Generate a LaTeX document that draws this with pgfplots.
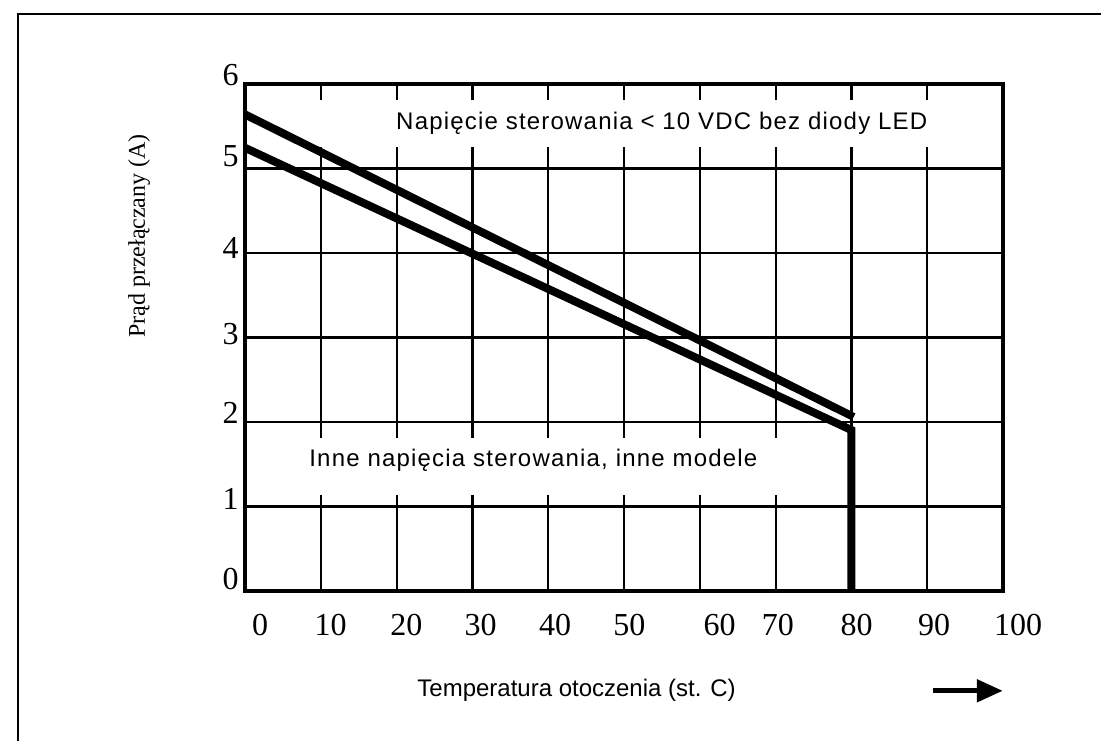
\documentclass[border=0pt]{standalone}
\usepackage{pgfplots}
\pgfplotsset{compat=1.18}
\usepackage{fontspec}
\setmainfont{Liberation Serif}
\newfontfamily\sansf{Liberation Sans}
\newfontfamily\sansls[LetterSpace=5]{Liberation Sans}
\usetikzlibrary{arrows.meta}

\begin{document}
\begin{tikzpicture}
\begin{axis}[
  at={(0,0)}, anchor=south west,
  scale only axis, width=379pt, height=253.5pt,
  xmin=0, xmax=100, ymin=0, ymax=6,
  clip=false,
  axis line style={line width=2.2pt, black},
  xtick={10,20,...,90}, ytick={1,2,3,4,5},
  xticklabels={}, yticklabels={},
  grid=major, grid style={black, line width=1.1pt},
  major tick length=0pt, tick style={draw=none},
  /pgf/number format/assume math mode=true,
  extra x ticks={2,11.3,21.3,31.1,40.9,50.7,62.6,70.3,80.7,90.9,100},
  extra x tick labels={0,10,20,30,40,50,60,70,80,90,\hspace*{15pt}100},
  extra x tick style={grid=none, xticklabel style={anchor=base, inner sep=0pt, yshift=-22pt, font=\fontsize{16}{16}\selectfont}},
  extra y ticks={0.02,0.96,1.98,2.92,3.93,5.02,5.98},
  extra y tick labels={0,1,2,3,4,5,6},
  extra y tick style={grid=none, yticklabel style={anchor=base east, inner sep=0pt, xshift=-3pt, font=\fontsize{16}{16}\selectfont}},
]
\fill[white] (axis cs:1,5.254) rectangle (axis cs:99,5.811);
\fill[white] (axis cs:1,1.136) rectangle (axis cs:79,1.81);
\node[anchor=base west, inner sep=0pt, font=\sansls\fontsize{12}{14}\selectfont] at (axis cs:19.9,5.456) {Napięcie sterowania < 10 VDC bez diody LED};
\node[anchor=base west, inner sep=0pt, font=\sansls\fontsize{12}{14}\selectfont] at (axis cs:8.44,1.471) {Inne napięcia sterowania, inne modele};
\addplot[black, line width=4pt] coordinates {(0,5.64) (80.3,2.06)};
\addplot[black, line width=4pt] coordinates {(0,5.245) (80,1.905) (80,0)};
\end{axis}
\draw[line width=1pt] (-113.5pt,-80pt) -- (-113.5pt,288.5pt) -- (440pt,288.5pt);
\node[anchor=base west, inner sep=0pt, font=\sansf\fontsize{12}{14}\selectfont] at (86pt,-52.5pt) {Temperatura otoczenia (st. C)};
\node[rotate=90, anchor=base, inner sep=0pt, font=\fontsize{12}{14}\selectfont] at (-50pt,177.5pt) {Prąd przełączany (A)};
\draw[line width=2.5pt, -{Triangle[length=13pt, width=11pt]}] (343.9pt,-49.9pt) -- (378.9pt,-49.9pt);
\pgfresetboundingbox
\useasboundingbox (-122.5pt,-74.5pt) rectangle (428pt,295.5pt);
\end{tikzpicture}
\end{document}
